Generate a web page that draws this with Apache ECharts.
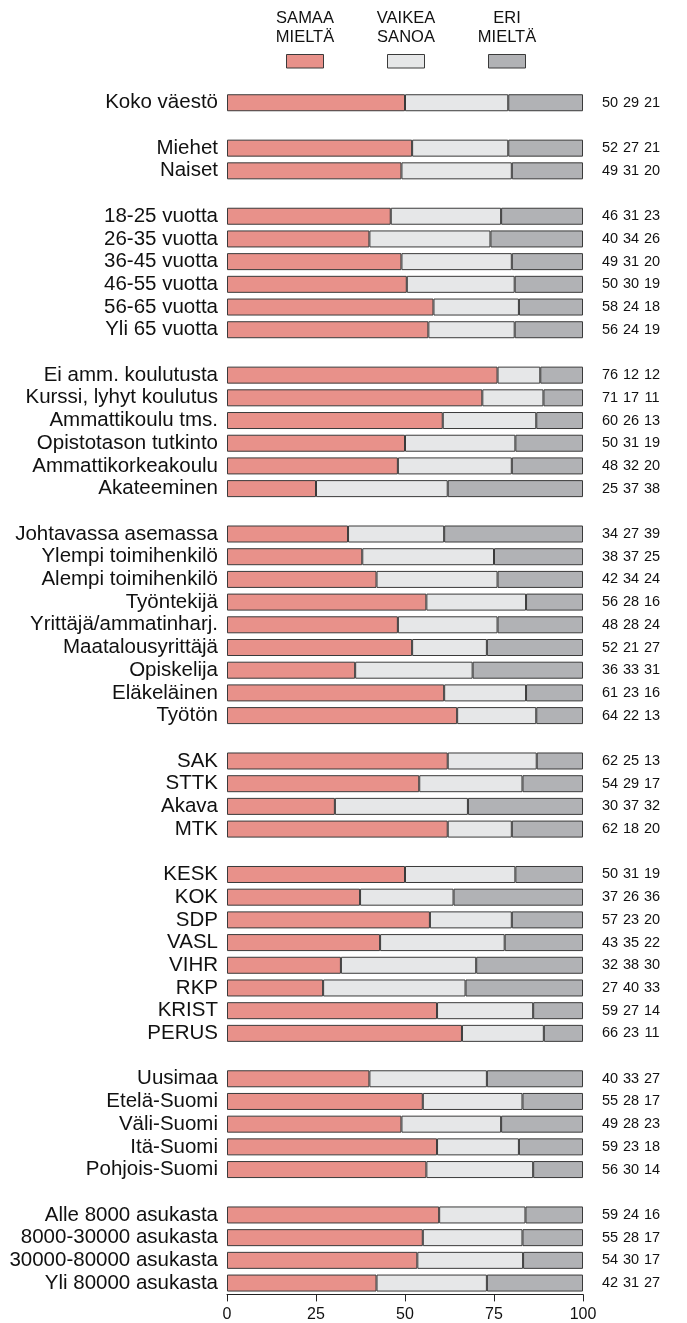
<!DOCTYPE html>
<html>
<head>
<meta charset="utf-8">
<script src="https://cdn.jsdelivr.net/npm/echarts@6/dist/echarts.min.js"></script>
<style>
html,body{margin:0;padding:0;background:#fff;}
#chart{width:687px;height:1323px;}
</style>
</head>
<body>
<div id="chart"></div>
<script>
// ---- data ----
const categories = ['Koko väestö', '',
  'Miehet', 'Naiset', '',
  '18-25 vuotta', '26-35 vuotta', '36-45 vuotta', '46-55 vuotta', '56-65 vuotta', 'Yli 65 vuotta', '',
  'Ei amm. koulutusta', 'Kurssi, lyhyt koulutus', 'Ammattikoulu tms.', 'Opistotason tutkinto', 'Ammattikorkeakoulu', 'Akateeminen', '',
  'Johtavassa asemassa', 'Ylempi toimihenkilö', 'Alempi toimihenkilö', 'Työntekijä', 'Yrittäjä/ammatinharj.', 'Maatalousyrittäjä', 'Opiskelija', 'Eläkeläinen', 'Työtön', '',
  'SAK', 'STTK', 'Akava', 'MTK', '',
  'KESK', 'KOK', 'SDP', 'VASL', 'VIHR', 'RKP', 'KRIST', 'PERUS', '',
  'Uusimaa', 'Etelä-Suomi', 'Väli-Suomi', 'Itä-Suomi', 'Pohjois-Suomi', '',
  'Alle 8000 asukasta', '8000-30000 asukasta', '30000-80000 asukasta', 'Yli 80000 asukasta'];

const samaa = [50, null,
  52, 49, null,
  46, 40, 49, 50, 58, 56, null,
  76, 71, 60, 50, 48, 25, null,
  34, 38, 42, 56, 48, 52, 36, 61, 64, null,
  62, 54, 30, 62, null,
  50, 37, 57, 43, 32, 27, 59, 66, null,
  40, 55, 49, 59, 56, null,
  59, 55, 54, 42];

const vaikea = [29, null,
  27, 31, null,
  31, 34, 31, 30, 24, 24, null,
  12, 17, 26, 31, 32, 37, null,
  27, 37, 34, 28, 28, 21, 33, 23, 22, null,
  25, 29, 37, 18, null,
  31, 26, 23, 35, 38, 40, 27, 23, null,
  33, 28, 28, 23, 30, null,
  24, 28, 30, 31];

const eri = [21, null,
  21, 20, null,
  23, 26, 20, 19, 18, 19, null,
  12, 11, 13, 19, 20, 38, null,
  39, 25, 24, 16, 24, 27, 31, 16, 13, null,
  13, 17, 32, 20, null,
  19, 36, 20, 22, 30, 33, 14, 11, null,
  27, 17, 23, 18, 14, null,
  16, 17, 17, 27];

const seriesNames = ['SAMAA\nMIELTÄ', 'VAIKEA\nSANOA', 'ERI\nMIELTÄ'];
const xTicks = [0, 25, 50, 75, 100];

// ---- styles ----
const colors = ['#E8918A', '#E6E7E8', '#B1B2B5'];
const border = '#3a3a3a';
const sans = '"Liberation Sans", Arial, sans-serif';
const narrow = '"Liberation Sans Narrow", "Liberation Sans", Arial, sans-serif';

// normalise each row so the stacked bar spans the full 0-100 scale
function share(arr) {
  return arr.map((v, i) => {
    if (v == null) return '-';
    const s = samaa[i] + vaikea[i] + eri[i];
    return v / s * 100;
  });
}

const chart = echarts.init(document.getElementById('chart'), null, {renderer: 'canvas'});

const seriesData = [samaa, vaikea, eri];
const series = seriesData.map((arr, k) => ({
  type: 'bar',
  name: seriesNames[k],
  stack: 'total',
  barWidth: 17,
  data: share(arr),
  itemStyle: {color: colors[k], borderColor: border, borderWidth: 1},
  emphasis: {disabled: true},
  silent: true
}));

const legendX = [305, 406, 507];
const graphic = [];
seriesNames.forEach((n, k) => {
  graphic.push({
    type: 'text', x: legendX[k], y: 9.5,
    style: {text: n, align: 'center', verticalAlign: 'top', fontSize: 16.5, lineHeight: 18.5,
      fontFamily: narrow, fill: '#111'}
  });
  graphic.push({
    type: 'rect', shape: {x: legendX[k] - 18.5, y: 54.5, width: 37, height: 13.5},
    style: {fill: colors[k], stroke: border, lineWidth: 1}
  });
});

const numStyle = {width: 21, align: 'center', fontSize: 14.5, fontFamily: narrow, color: '#111'};

const option = {
  animation: false,
  backgroundColor: '#fff',
  grid: {left: 227, right: 104, top: 91.4, bottom: 28.6, containLabel: false},
  xAxis: {
    type: 'value', min: xTicks[0], max: xTicks[xTicks.length - 1], interval: 25,
    axisLine: {show: true, lineStyle: {color: '#222', width: 1}},
    axisTick: {show: true, length: 7, lineStyle: {color: '#222'}},
    splitLine: {show: false},
    axisLabel: {color: '#111', fontSize: 16, fontFamily: sans, margin: 12,
      formatter: v => xTicks.includes(v) ? String(v) : ''}
  },
  yAxis: [{
    type: 'category', data: categories, inverse: true,
    axisLine: {show: false}, axisTick: {show: false}, splitLine: {show: false},
    axisLabel: {color: '#111', fontSize: 20.5, fontFamily: sans, margin: 9, interval: 0}
  }, {
    type: 'category', data: categories, inverse: true, position: 'right',
    axisLine: {show: false}, axisTick: {show: false}, splitLine: {show: false},
    axisLabel: {
      interval: 0, margin: 16.5, align: 'left',
      formatter: (v, i) => samaa[i] == null ? '' : `{a|${samaa[i]}}{b|${vaikea[i]}}{c|${eri[i]}}`,
      rich: {a: numStyle, b: numStyle, c: numStyle}
    }
  }],
  series: series,
  graphic: graphic
};
chart.setOption(option);
</script>
</body>
</html>
